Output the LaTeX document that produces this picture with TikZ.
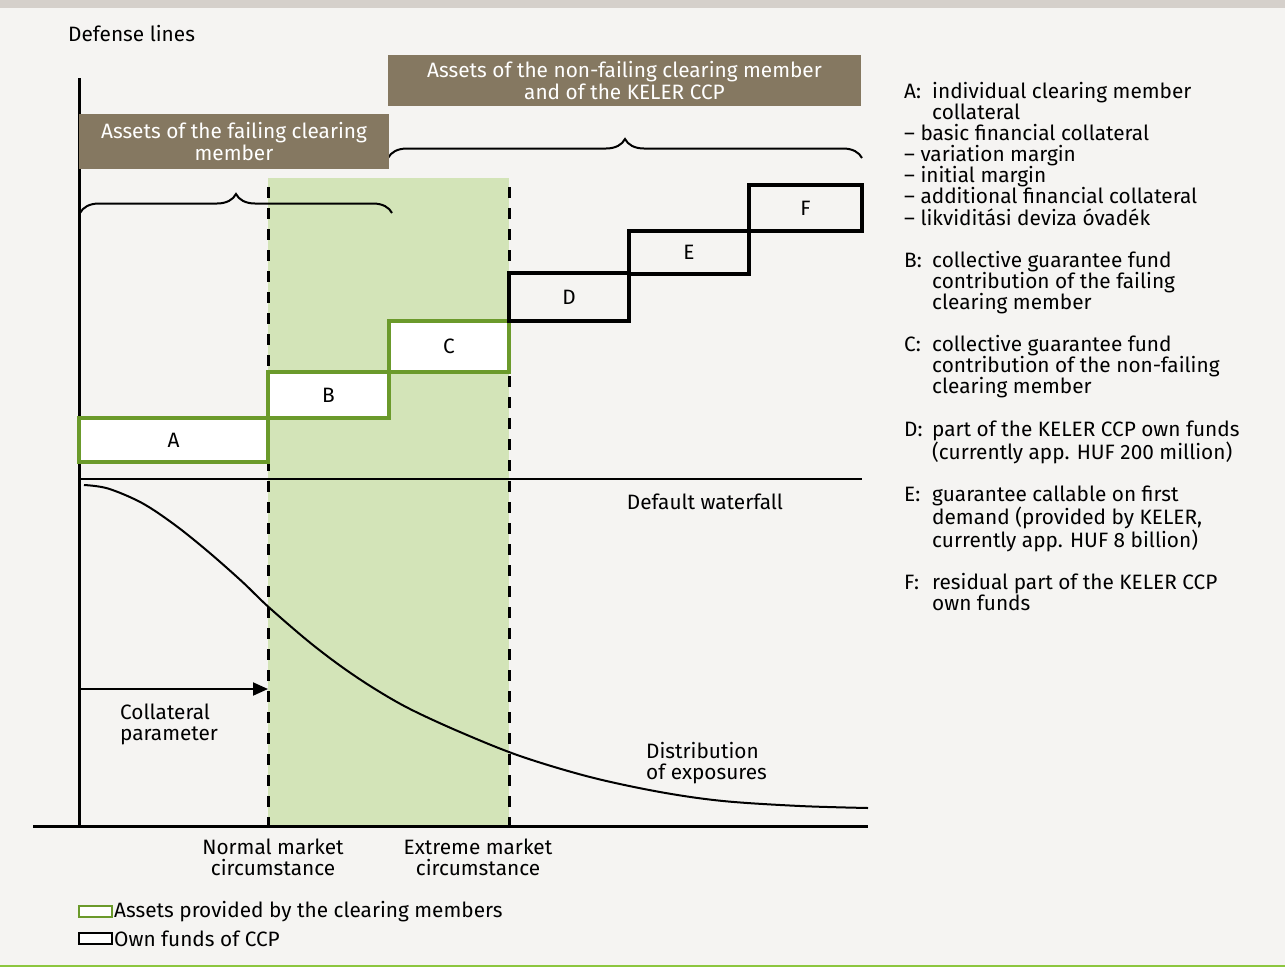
\documentclass[tikz,border=0pt]{standalone}
\usepackage{fontspec}
\setmainfont{Fira Sans}
\usetikzlibrary{decorations.pathreplacing,arrows.meta}
\definecolor{bg}{HTML}{F5F4F2}
\definecolor{topbar}{HTML}{D5D0CB}
\definecolor{brownbox}{HTML}{857861}
\definecolor{band}{HTML}{D3E4B8}
\definecolor{gborder}{HTML}{6B9A2B}
\definecolor{bline}{HTML}{8CC63F}
\newcommand{\lab}[1]{\makebox[28pt][l]{#1}}
\newcommand{\ind}{\hspace*{28pt}}
\tikzset{
  txt/.style={inner sep=0pt, align=center},
  ltxt/.style={inner sep=0pt, align=left},
  brownlabel/.style={fill=brownbox, text=white, inner sep=0pt, align=center},
  gbox/.style={draw=gborder, line width=3.3pt, fill=white, inner sep=0pt},
  kbox/.style={draw=black, line width=3.3pt, inner sep=0pt},
  dashv/.style={line width=3pt, dash pattern=on 11pt off 10pt, dash phase=12pt},
  bracestyle/.style={decorate, decoration={brace, amplitude=19pt}, line width=2pt},
}
\begin{document}
\begin{tikzpicture}[x=1pt,y=-1pt,font=\fontsize{20.8}{21.1}\selectfont]
\useasboundingbox (0,0) rectangle (1285,967);
\fill[bg] (0,0) rectangle (1285,967);
\fill[topbar] (0,0) rectangle (1285,8);
\fill[bline] (0,964.5) rectangle (1285,967);
% green band
\fill[band] (268,178) rectangle (509,826);
% dashed lines
\draw[dashv] (268,178) -- (268,826);
\draw[dashv] (509,178) -- (509,826);
% default waterfall line
\draw[line width=1.8pt] (79,479) -- (862,479);
% axes
\draw[line width=3pt] (79,78) -- (79,826);
\draw[line width=3pt] (33,826) -- (868,826);
% distribution curve
\draw[line width=2pt] plot[smooth, tension=0.55] coordinates {(84,485) (108,488.5) (142,503) (175,525) (208,551.5) (242,581.5) (268,606.5) (308,641) (342,667) (375,689) (410,709) (460,732) (520,756) (590,777) (660,792) (723,801) (800,806) (868,808)};
% collateral arrow
\coordinate (cpS) at (79,689);
\coordinate (cpE) at (268,689);
\draw[line width=2pt, -{Triangle[length=15pt,width=13pt]}] (cpS) -- (cpE);
% waterfall boxes
\node[gbox, minimum width=189pt, minimum height=44pt] (A) at (173.5,440) {A};
\node[gbox, minimum width=121pt, minimum height=46pt] (B) at (328.5,395) {B};
\node[gbox, minimum width=120pt, minimum height=51pt] (C) at (449,346.5) {C};
\node[kbox, minimum width=120pt, minimum height=48pt] (D) at (569,297) {D};
\node[kbox, minimum width=120pt, minimum height=43pt] (E) at (689,252.5) {E};
\node[kbox, minimum width=113pt, minimum height=46pt] (F) at (805.5,208) {F};
% braces
\draw[bracestyle] (80,213) -- (392,213);
\draw[bracestyle] (388,158) -- (862,158);
% brown labels
\node[brownlabel, minimum width=310pt, minimum height=55pt] (fail) at (234,141.5) {Assets of the failing clearing\\member};
\node[brownlabel, minimum width=473pt, minimum height=51pt] (nonfail) at (624.5,80.5) {Assets of the non-failing clearing member\\and of the KELER CCP};
% texts
\node[ltxt, anchor=west] (def) at (68,34) {Defense lines};
\node[txt] (dwf) at (705,502) {Default waterfall};
\node[ltxt, anchor=west] (colpar) at (120,724) {Collateral\\parameter};
\node[ltxt, anchor=west] (dist) at (646,763) {Distribution\\of exposures};
\node[txt] (normal) at (273,857) {Normal market\\circumstance};
\node[txt] (extreme) at (478,857) {Extreme market\\circumstance};
% legend bottom
\node[draw=gborder, line width=2.5pt, fill=white, minimum width=33pt, minimum height=11pt, inner sep=0pt] (lg1) at (95.5,911.5) {};
\node[ltxt, anchor=west] (lg1t) at (114,912) {Assets provided by the clearing members};
\node[draw=black, line width=2.5pt, fill=white, minimum width=33pt, minimum height=11pt, inner sep=0pt] (lg2) at (95.5,938.5) {};
\node[ltxt, anchor=west] (lg2t) at (114,939) {Own funds of CCP};
% right legend
\node[ltxt, anchor=north west] (keyA) at (904,82) {\lab{A:}individual clearing member\\
\ind collateral\\
– basic financial collateral\\
– variation margin\\
– initial margin\\
– additional financial collateral\\
– likviditási deviza óvadék\\[21.1pt]
\lab{B:}collective guarantee fund\\
\ind contribution of the failing\\
\ind clearing member\\[21.1pt]
\lab{C:}collective guarantee fund\\
\ind contribution of the non-failing\\
\ind clearing member\\[21.1pt]
\lab{D:}part of the KELER CCP own funds\\
\ind (currently app. HUF 200 million)\\[21.1pt]
\lab{E:}guarantee callable on first\\
\ind demand (provided by KELER,\\
\ind currently app. HUF 8 billion)\\[21.1pt]
\lab{F:}residual part of the KELER CCP\\
\ind own funds};
\end{tikzpicture}
\end{document}
